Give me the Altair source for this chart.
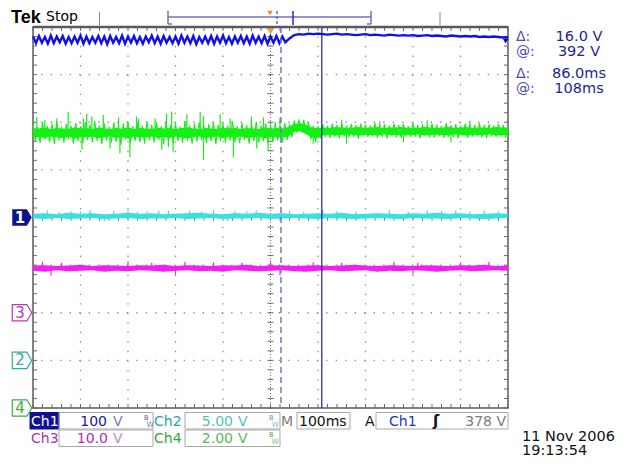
import altair as alt
import pandas as pd

# ---------------- data (screen divisions / milliseconds) ----------------
# horizontal: 100 ms/div, 10 div, trigger at centre
t_domain = [-500, 500]
y_domain = [-4, 4]

# Ch1 (blue) ripple part, sampled every 6.25 ms starting at -500 ms
ch1_ripple_start = -500
ch1_ripple_step = 6.25
ch1_ripple = [
    3.80, 3.66, 3.81, 3.67, 3.79, 3.65, 3.82, 3.66, 3.80, 3.68,
    3.81, 3.65, 3.79, 3.66, 3.80, 3.67, 3.82, 3.65, 3.80, 3.66,
    3.79, 3.67, 3.81, 3.66, 3.80, 3.64, 3.81, 3.67, 3.79, 3.66,
    3.82, 3.65, 3.80, 3.67, 3.81, 3.66, 3.79, 3.65, 3.80, 3.68,
    3.82, 3.66, 3.80, 3.65, 3.81, 3.67, 3.79, 3.66, 3.80, 3.65,
    3.82, 3.67, 3.80, 3.66, 3.81, 3.64, 3.79, 3.67, 3.80, 3.66,
    3.81, 3.65, 3.80, 3.67, 3.82, 3.66, 3.79, 3.65, 3.80, 3.67,
    3.81, 3.66, 3.80, 3.65, 3.82, 3.67, 3.80, 3.66, 3.81, 3.65,
    3.80, 3.67, 3.81, 3.66, 3.80, 3.68,
]
# Ch1 after the step, sampled every 10 ms starting at 40 ms
ch1_after_start = 40
ch1_after_step = 10
ch1_after = [
    3.76, 3.83, 3.85, 3.84, 3.86, 3.85, 3.86, 3.85, 3.84, 3.85,
    3.86, 3.84, 3.85, 3.84, 3.83, 3.84, 3.85, 3.83, 3.84, 3.83,
    3.82, 3.84, 3.83, 3.82, 3.83, 3.82, 3.83, 3.81, 3.82, 3.83,
    3.81, 3.82, 3.81, 3.80, 3.82, 3.81, 3.80, 3.81, 3.80, 3.81,
    3.79, 3.80, 3.79, 3.80, 3.79, 3.78, 3.79,
]

# Ch4 (green) solid core envelope every 12.5 ms
ch4_start = -500
ch4_step = 12.5
ch4_hi = [
    1.88, 1.87, 1.89, 1.86, 1.88, 1.87, 1.86, 1.89, 1.87, 1.88,
    1.86, 1.89, 1.87, 1.86, 1.88, 1.87, 1.89, 1.86, 1.88, 1.87,
    1.86, 1.89, 1.87, 1.88, 1.86, 1.88, 1.89, 1.87, 1.86, 1.88,
    1.87, 1.86, 1.89, 1.87, 1.88, 1.86, 1.88, 1.87, 1.86, 1.89,
    1.87, 1.88, 1.87,
    1.90, 1.97, 1.98, 1.95, 1.89, 1.88,
    1.89, 1.88, 1.90, 1.89, 1.88, 1.89, 1.90, 1.88, 1.89, 1.90,
    1.88, 1.89, 1.89, 1.90, 1.88, 1.89, 1.88, 1.90, 1.89, 1.88,
    1.89, 1.90, 1.88, 1.89, 1.90, 1.88, 1.89, 1.89, 1.88, 1.90,
    1.89, 1.89,
]
ch4_lo = [
    1.68, 1.69, 1.67, 1.70, 1.68, 1.67, 1.70, 1.66, 1.69, 1.68,
    1.70, 1.67, 1.68, 1.70, 1.67, 1.69, 1.66, 1.70, 1.68, 1.68,
    1.70, 1.67, 1.69, 1.67, 1.70, 1.68, 1.66, 1.69, 1.70, 1.67,
    1.68, 1.70, 1.67, 1.69, 1.68, 1.70, 1.67, 1.68, 1.70, 1.66,
    1.69, 1.68, 1.68,
    1.70, 1.80, 1.81, 1.75, 1.68, 1.67,
    1.73, 1.74, 1.72, 1.73, 1.75, 1.73, 1.72, 1.74, 1.73, 1.72,
    1.75, 1.73, 1.73, 1.72, 1.74, 1.73, 1.75, 1.72, 1.73, 1.74,
    1.73, 1.72, 1.75, 1.73, 1.72, 1.74, 1.73, 1.73, 1.75, 1.72,
    1.73, 1.73,
]
# Ch4 min/max noise trace, one value every 5 ms
ch4_noise_start = -500
ch4_noise_step = 5
ch4_noise = [
    1.95, 1.60, 1.90, 1.56, 2.00, 1.64, 1.92, 1.58, 1.97, 1.54,
    2.02, 1.62, 1.91, 1.57, 1.96, 1.65, 1.93, 1.55, 1.99, 1.60,
    1.92, 1.56, 2.01, 1.63, 1.95, 1.58, 2.03, 1.61, 1.93, 1.54,
    1.98, 1.62, 1.91, 1.57, 2.00, 1.59, 1.94, 1.53, 1.97, 1.64,
    2.01, 1.56, 1.92, 1.61, 1.98, 1.58, 1.93, 1.55, 2.02, 1.62,
    1.95, 1.57, 1.99, 1.63, 1.92, 1.54, 2.01, 1.60, 1.94, 1.56,
    1.98, 1.61, 1.91, 1.57, 2.03, 1.62, 1.93, 1.55, 1.97, 1.59,
    2.00, 1.63, 1.92, 1.56, 1.96, 1.60, 2.01, 1.54, 1.94, 1.61,
    1.98, 1.57, 1.93, 1.62, 2.02, 1.58, 1.92, 1.56, 1.99, 1.63,
    1.94, 1.55, 1.97, 1.60, 2.01, 1.57, 1.93, 1.61, 1.98, 1.56,
    1.95, 1.59, 2.00, 1.62, 1.92, 1.57, 1.99, 1.63, 1.96, 1.68,
    2.04, 1.78, 2.06, 1.80, 2.05, 1.76, 2.01, 1.64, 1.93, 1.58,
    1.92, 1.66, 1.96, 1.69, 1.93, 1.67, 1.97, 1.70, 1.94, 1.66,
    1.98, 1.71, 1.93, 1.68, 1.96, 1.70, 1.94, 1.65, 1.97, 1.72,
    1.95, 1.69, 1.93, 1.71, 1.98, 1.67, 1.94, 1.70, 1.96, 1.66,
    1.93, 1.72, 1.97, 1.68, 1.94, 1.67, 1.96, 1.71, 1.92, 1.69,
    1.98, 1.70, 1.94, 1.66, 1.96, 1.72, 1.93, 1.68, 1.97, 1.67,
    1.95, 1.71, 1.92, 1.67, 1.98, 1.70, 1.94, 1.69, 1.96, 1.66,
    1.93, 1.72, 1.97, 1.67, 1.95, 1.70, 1.94, 1.71, 1.98, 1.68,
    1.94, 1.67, 1.96, 1.71, 1.93, 1.69, 1.97, 1.70, 1.94, 1.67, 1.95,
]
ch4_level = 1.78
ch4_spike_t = [-492, -475, -450, -426, -394, -387, -376, -352, -320, -282,
               -278, -243, -219, -208, -176, -148, -141, -106, -85, -40,
               -15, 20, 150, 230, 330, 420,
               -397, -338, -317, -296, -229, -215, -205, -141, -78, -29,
               -5, 90, 160, 280, 380]
ch4_spike_v = [2.11, 2.05, 2.08, 2.22, 2.08, 2.18, 2.12, 2.15, 2.10, 2.12,
               2.07, 2.08, 2.18, 2.22, 2.17, 2.22, 2.13, 2.17, 2.08, 2.12,
               2.10, 2.10, 2.05, 2.02, 2.04, 2.03,
               1.42, 1.45, 1.35, 1.27, 1.42, 1.48, 1.38, 1.21, 1.27, 1.45,
               1.40, 1.55, 1.55, 1.58, 1.58]

# Ch2 (cyan) envelope every 25 ms
ch2_start = -500
ch2_step = 25
ch2_hi = [0.08, 0.09, 0.07, 0.10, 0.08, 0.09, 0.07, 0.08, 0.10, 0.08,
          0.09, 0.07, 0.08, 0.09, 0.10, 0.08, 0.07, 0.09, 0.08, 0.10,
          0.08, 0.09, 0.07, 0.08, 0.09, 0.08, 0.10, 0.07, 0.08, 0.09,
          0.08, 0.07, 0.09, 0.08, 0.10, 0.08, 0.09, 0.07, 0.08, 0.09, 0.08]
ch2_lo = [-0.02, -0.03, -0.01, -0.03, -0.02, -0.01, -0.03, -0.02, -0.01, -0.03,
          -0.02, -0.02, -0.01, -0.03, -0.02, -0.01, -0.03, -0.02, -0.02, -0.01,
          -0.03, -0.02, -0.01, -0.02, -0.03, -0.01, -0.02, -0.03, -0.02, -0.01,
          -0.02, -0.03, -0.01, -0.02, -0.02, -0.03, -0.01, -0.02, -0.03, -0.02, -0.01]
ch2_level = 0.03
ch2_spike_t = [-470, -420, -380, -330, -300, -260, -215, -170, -120, -75,
               -30, 40, 110, 180, 250, 330, 390, 450, -350, -90, 200,
               -445, -400, -280, -235, -145, -50, 70, 140, 290, 360, 420, 480]
ch2_spike_v = [0.15, 0.13, 0.16, 0.14, 0.16, 0.13, 0.15, 0.14, 0.16, 0.13,
               0.15, 0.14, 0.16, 0.13, 0.15, 0.16, 0.14, 0.15, -0.08, -0.07, -0.08,
               0.12, 0.13, 0.12, 0.14, 0.12, 0.13, 0.12, 0.13, 0.12, 0.14, 0.12, 0.13]

# Ch3 (magenta) envelope every 25 ms
ch3_start = -500
ch3_step = 25
ch3_hi = [-1.01, -1.00, -1.02, -1.01, -0.99, -1.02, -1.00, -1.01, -1.02, -1.00,
          -1.01, -0.99, -1.02, -1.00, -1.01, -1.02, -1.00, -1.01, -0.99, -1.02,
          -1.01, -1.00, -1.02, -1.01, -1.00, -1.02, -1.01, -0.99, -1.01, -1.02,
          -1.00, -1.01, -1.02, -1.00, -1.01, -1.02, -1.00, -1.01, -0.99, -1.02, -1.01]
ch3_lo = [-1.12, -1.14, -1.11, -1.13, -1.12, -1.11, -1.14, -1.12, -1.13, -1.11,
          -1.12, -1.14, -1.12, -1.11, -1.13, -1.12, -1.14, -1.11, -1.12, -1.13,
          -1.12, -1.11, -1.13, -1.14, -1.12, -1.11, -1.13, -1.12, -1.11, -1.14,
          -1.12, -1.13, -1.11, -1.12, -1.14, -1.12, -1.11, -1.13, -1.12, -1.11, -1.12]
ch3_level = -1.07
ch3_spike_t = [-480, -440, -300, -250, -180, -120, -60, 0, 90, 150, 260, 310, 400, 460,
               -462, -200, 20, 300]
ch3_spike_v = [-0.93, -0.95, -0.92, -0.95, -0.93, -0.94, -0.95, -0.92, -0.94, -0.95,
               -0.93, -0.95, -0.94, -0.93, -1.22, -1.20, -1.21, -1.19]

# channel ground markers (label, level in div)
marker_labels = ["1", "3", "2", "4"]
marker_levels = [0, -2, -3, -4]

# cursors (ms)
cursor_a = 22
cursor_b = 108
trigger_t = 0

# ---------------- layout constants ----------------
W, H = 475, 381          # plot area
X0, Y0 = 33, 27          # plot origin in page pixels
FONT = "DejaVu Sans"

BLUE = "#1010ee"
GREEN = "#14f014"
CYAN = "#38e0e0"
MAGENTA = "#f020f0"
NAVY = "#101090"

xs = alt.Scale(domain=t_domain, nice=False, zero=False)
ys = alt.Scale(domain=y_domain, nice=False, zero=False)


def X(f):
    return alt.X(f, type="quantitative", scale=xs, axis=None)


def Y(f):
    return alt.Y(f, type="quantitative", scale=ys, axis=None)


one = pd.DataFrame({"k": [0]})


def label(text, px, py, color="#000000", size=14, weight="normal", align="left", font=FONT):
    return alt.Chart(one).mark_text(
        text=text, align=align, baseline="alphabetic", font=font,
        fontSize=size, fontWeight=weight, color=color,
    ).encode(x=alt.value(px - X0), y=alt.value(py - Y0))


def vline(px, py1, py2, color, width=1.0, dash=None):
    kw = dict(color=color, strokeWidth=width)
    if dash:
        kw["strokeDash"] = dash
    return alt.Chart(one).mark_rule(**kw).encode(
        x=alt.value(px - X0), y=alt.value(py1 - Y0), y2=alt.value(py2 - Y0))


def hline(px1, px2, py, color, width=1.0):
    return alt.Chart(one).mark_rule(color=color, strokeWidth=width).encode(
        x=alt.value(px1 - X0), x2=alt.value(px2 - X0), y=alt.value(py - Y0))


def box(px1, px2, py1, py2, stroke="#a8a8a8", fill=None):
    if fill:
        m = alt.Chart(one).mark_rect(fill=fill, stroke=fill)
    else:
        m = alt.Chart(one).mark_rect(fill="#ffffff", fillOpacity=0, stroke=stroke, strokeWidth=1)
    return m.encode(x=alt.value(px1 - X0), x2=alt.value(px2 - X0),
                    y=alt.value(py1 - Y0), y2=alt.value(py2 - Y0))


# ---------------- frames ----------------
ch1_df = pd.DataFrame({
    "t": [ch1_ripple_start + i * ch1_ripple_step for i in range(len(ch1_ripple))]
         + [ch1_after_start + i * ch1_after_step for i in range(len(ch1_after))],
    "v": ch1_ripple + ch1_after,
})


def band_df(start, step, hi, lo):
    return pd.DataFrame({"t": [start + i * step for i in range(len(hi))], "hi": hi, "lo": lo})


def spike_df(ts, vs, level):
    return pd.DataFrame({"t": ts, "v": vs, "base": [level] * len(ts)})


ch4_df = band_df(ch4_start, ch4_step, ch4_hi, ch4_lo)
ch4_noise_df = pd.DataFrame({
    "t": [ch4_noise_start + i * ch4_noise_step for i in range(len(ch4_noise))],
    "v": ch4_noise})
ch2_df = band_df(ch2_start, ch2_step, ch2_hi, ch2_lo)
ch3_df = band_df(ch3_start, ch3_step, ch3_hi, ch3_lo)

# ---------------- graticule ----------------
GRID = "#8c8c8c"
major_t = [t for t in range(-400, 401, 100) if t != 0]
major_y = [y for y in range(-3, 4) if y != 0]
minor_t = [i * 20 for i in range(-25, 26)]
minor_y = [i / 5 for i in range(-20, 21)]

grid_v = alt.Chart(pd.DataFrame({"t": major_t})).mark_rule(
    color=GRID, strokeWidth=1.3, strokeDash=[1.3, H / 40 - 1.3]).encode(x=X("t"))
grid_h = alt.Chart(pd.DataFrame({"y": major_y})).mark_rule(
    color=GRID, strokeWidth=1.3, strokeDash=[1.3, W / 50 - 1.3]).encode(y=Y("y"))
center_v = alt.Chart(pd.DataFrame({"t": [0]})).mark_rule(
    color="#707070", strokeWidth=1, strokeDash=[1, 2]).encode(x=X("t"))
center_h = alt.Chart(pd.DataFrame({"y": [0]})).mark_rule(
    color="#707070", strokeWidth=1, strokeDash=[1, 2]).encode(y=Y("y"))

mt = pd.DataFrame({"t": minor_t})
my = pd.DataFrame({"y": minor_y})
TICK = "#6a6a6a"
ticks = [
    alt.Chart(mt).mark_rule(color=TICK).encode(x=X("t"), y=alt.value(0), y2=alt.value(4)),
    alt.Chart(mt).mark_rule(color=TICK).encode(x=X("t"), y=alt.value(H - 4), y2=alt.value(H)),
    alt.Chart(mt).mark_rule(color=TICK).encode(x=X("t"), y=alt.value(H / 2 - 3), y2=alt.value(H / 2 + 3)),
    alt.Chart(my).mark_rule(color=TICK).encode(y=Y("y"), x=alt.value(0), x2=alt.value(4)),
    alt.Chart(my).mark_rule(color=TICK).encode(y=Y("y"), x=alt.value(W - 4), x2=alt.value(W)),
    alt.Chart(my).mark_rule(color=TICK).encode(y=Y("y"), x=alt.value(W / 2 - 3), x2=alt.value(W / 2 + 3)),
]
top_border = hline(X0, X0 + W, Y0, "#5a5a5a", 2.5)

# ---------------- traces ----------------
ch4_band = alt.Chart(ch4_df).mark_area(color=GREEN, opacity=1).encode(
    x=X("t"), y=Y("hi"), y2="lo")
ch4_noise_line = alt.Chart(ch4_noise_df).mark_line(color=GREEN, strokeWidth=1.1).encode(
    x=X("t"), y=Y("v"))
ch4_sp = alt.Chart(spike_df(ch4_spike_t, ch4_spike_v, ch4_level)).mark_rule(
    color=GREEN, strokeWidth=1.2).encode(x=X("t"), y=Y("base"), y2="v")
ch2_band = alt.Chart(ch2_df).mark_area(color=CYAN, opacity=1).encode(
    x=X("t"), y=Y("hi"), y2="lo")
ch2_sp = alt.Chart(spike_df(ch2_spike_t, ch2_spike_v, ch2_level)).mark_rule(
    color=CYAN, strokeWidth=1.2).encode(x=X("t"), y=Y("base"), y2="v")
ch3_band = alt.Chart(ch3_df).mark_area(color=MAGENTA, opacity=1).encode(
    x=X("t"), y=Y("hi"), y2="lo")
ch3_sp = alt.Chart(spike_df(ch3_spike_t, ch3_spike_v, ch3_level)).mark_rule(
    color=MAGENTA, strokeWidth=1.2).encode(x=X("t"), y=Y("base"), y2="v")
ch1_line = alt.Chart(ch1_df).mark_line(color=BLUE, strokeWidth=2.4).encode(
    x=X("t"), y=Y("v"))

# ---------------- cursors / trigger ----------------
cur_a = alt.Chart(pd.DataFrame({"t": [cursor_a]})).mark_rule(
    color="#7474c8", strokeWidth=1.5, strokeDash=[6, 4]).encode(x=X("t"))
cur_b = alt.Chart(pd.DataFrame({"t": [cursor_b]})).mark_rule(
    color="#1c1ca0", strokeWidth=1.2).encode(x=X("t"))
trig = alt.Chart(pd.DataFrame({"t": [trigger_t]})).mark_point(
    shape="triangle-down", filled=True, color="#f0a040", size=70, opacity=1).encode(
    x=X("t"), y=alt.value(4))
ch1_level_mark = alt.Chart(pd.DataFrame({"t": [495]})).mark_point(
    shape="triangle-down", filled=True, color=NAVY, size=35, opacity=1).encode(
    x=X("t"), y=alt.value(14))

# ---------------- channel ground markers ----------------
ARROW = "M -1 -0.84 L 0.5 -0.84 L 1 0 L 0.5 0.84 L -1 0.84 Z"
mk = pd.DataFrame({"lab": marker_labels, "lev": marker_levels,
                   "col": [NAVY, "#b838b8", "#30a8a8", "#38b038"]})
mk_filled = alt.Chart(mk[mk.lab == "1"]).mark_point(
    shape=ARROW, filled=True, size=380, opacity=1, color=NAVY).encode(
    x=alt.value(-11), y=Y("lev"))
mk_open = alt.Chart(mk[mk.lab != "1"]).mark_point(
    shape=ARROW, filled=True, size=380, opacity=1, fill="#ffffff", strokeWidth=1.2).encode(
    x=alt.value(-11), y=Y("lev"), stroke=alt.Stroke("col:N", scale=None))
mk_text = alt.Chart(mk).mark_text(font=FONT, fontSize=15, baseline="middle", align="center").encode(
    x=alt.value(-13), y=Y("lev"), text="lab:N",
    color=alt.Color("col:N", scale=None))
mk_text1 = alt.Chart(mk[mk.lab == "1"]).mark_text(
    font=FONT, fontSize=15, fontWeight="bold", baseline="middle", align="center", color="#ffffff").encode(
    x=alt.value(-13), y=Y("lev"), text="lab:N")

# ---------------- header ----------------
header = [
    label("Tek", 11, 23, size=18, weight="bold", font="Liberation Sans"),
    label("Stop", 46, 21, size=14),
    vline(99.5, 12, 25, "#8a8a8a"),
    vline(440, 12, 25, "#8a8a8a"),
    hline(168, 371, 17, "#7070c4", 1.5),
    vline(168, 11, 24, "#7070c4", 1.5),
    hline(168, 172, 24, "#7070c4", 1.5),
    vline(371, 11, 24, "#7070c4", 1.5),
    hline(367, 371, 24, "#7070c4", 1.5),
    vline(277, 11, 26, "#6868c0", 1.5, [3, 2]),
    vline(293, 11, 25, "#2a2aa8", 1.5),
    alt.Chart(one).mark_point(shape="triangle-down", filled=True, color="#f08a20",
                              size=30, opacity=1).encode(x=alt.value(270 - X0), y=alt.value(13 - Y0)),
]

# ---------------- readouts ----------------
RD = "#1e1e9c"
RD2 = "#4a4ab8"
readouts = [
    label("\u0394:", 516, 41, RD2, 14),
    label("16.0 V", 579, 41, RD, 14.5, align="center"),
    label("@:", 516, 56, RD2, 14),
    label("392 V", 579, 56, RD, 14.5, align="center"),
    label("\u0394:", 516, 78, RD2, 14),
    label("86.0ms", 579, 78, RD, 14.5, align="center"),
    label("@:", 516, 93, RD2, 14),
    label("108ms", 579, 93, RD, 14.5, align="center"),
]

# ---------------- status bar ----------------
status = [
    box(30, 59, 412.5, 429, fill=NAVY),
    box(59, 153, 412.5, 429),
    box(185, 280, 412.5, 429),
    box(297, 350, 412.5, 429),
    box(376, 508, 412.5, 429),
    box(59, 153, 430, 446.5),
    box(185, 280, 430, 446.5),
    label("Ch1", 31, 425.5, "#ffffff", 14),
    label("100", 107, 425.5, "#1a1a9a", 14, align="right"),
    label("V", 113, 425.5, "#7a7ac8", 14),
    label("B", 144, 419.5, "#4a4ab0", 6.5),
    label("W", 146.5, 427, "#7a7ac8", 7.5),
    label("Ch2", 154, 425.5, "#2aa4ac", 14),
    label("5.00", 233, 425.5, "#5cbcbc", 14, align="right"),
    label("V", 238, 425.5, "#5cbcbc", 14),
    label("B", 269, 419.5, "#3aa0a8", 6.5),
    label("W", 271.5, 427, "#7cc8c8", 7.5),
    label("M", 281, 425.5, "#7a7a7a", 14),
    label("100ms", 299, 425.5, "#111111", 14),
    label("A", 365, 425.5, "#111111", 14),
    label("Ch1", 389, 425.5, "#1a36c0", 14),
    label("\u0283", 433, 425.5, "#111111", 15, weight="bold"),
    label("378 V", 506, 425.5, "#7a7a7a", 14, align="right"),
    label("Ch3", 31, 442.5, "#b030b0", 14),
    label("10.0", 108, 442.5, "#b030b0", 14, align="right"),
    label("V", 113, 442.5, "#c888c8", 14),
    label("Ch4", 154, 442.5, "#38a438", 14),
    label("2.00", 233, 442.5, "#58b858", 14, align="right"),
    label("V", 238, 442.5, "#58b858", 14),
    label("B", 269, 436.5, "#38a438", 6.5),
    label("W", 271.5, 444, "#78c878", 7.5),
    label("11 Nov 2006", 522, 440.5, "#111111", 14.5),
    label("19:13:54", 522, 455, "#111111", 14.5),
]

layers = (
    [grid_v, grid_h, center_v, center_h] + ticks +
    [ch4_band, ch4_noise_line, ch4_sp, ch2_band, ch2_sp, ch3_band, ch3_sp, ch1_line,
     cur_a, cur_b, trig, ch1_level_mark, top_border,
     mk_filled, mk_open, mk_text, mk_text1] +
    header + readouts + status
)

chart = alt.layer(*layers).properties(
    width=W, height=H,
    padding={"left": X0 - 8, "top": Y0 - 8, "right": 635 - 8 - X0 - W, "bottom": 466 - 8 - Y0 - H},
    autosize=alt.AutoSizeParams(type="none"),
    background="#ffffff",
).configure_view(stroke="#5a5a5a", strokeWidth=1.5)

chart.save("out.html", embed_options={"renderer": "svg", "actions": False})
